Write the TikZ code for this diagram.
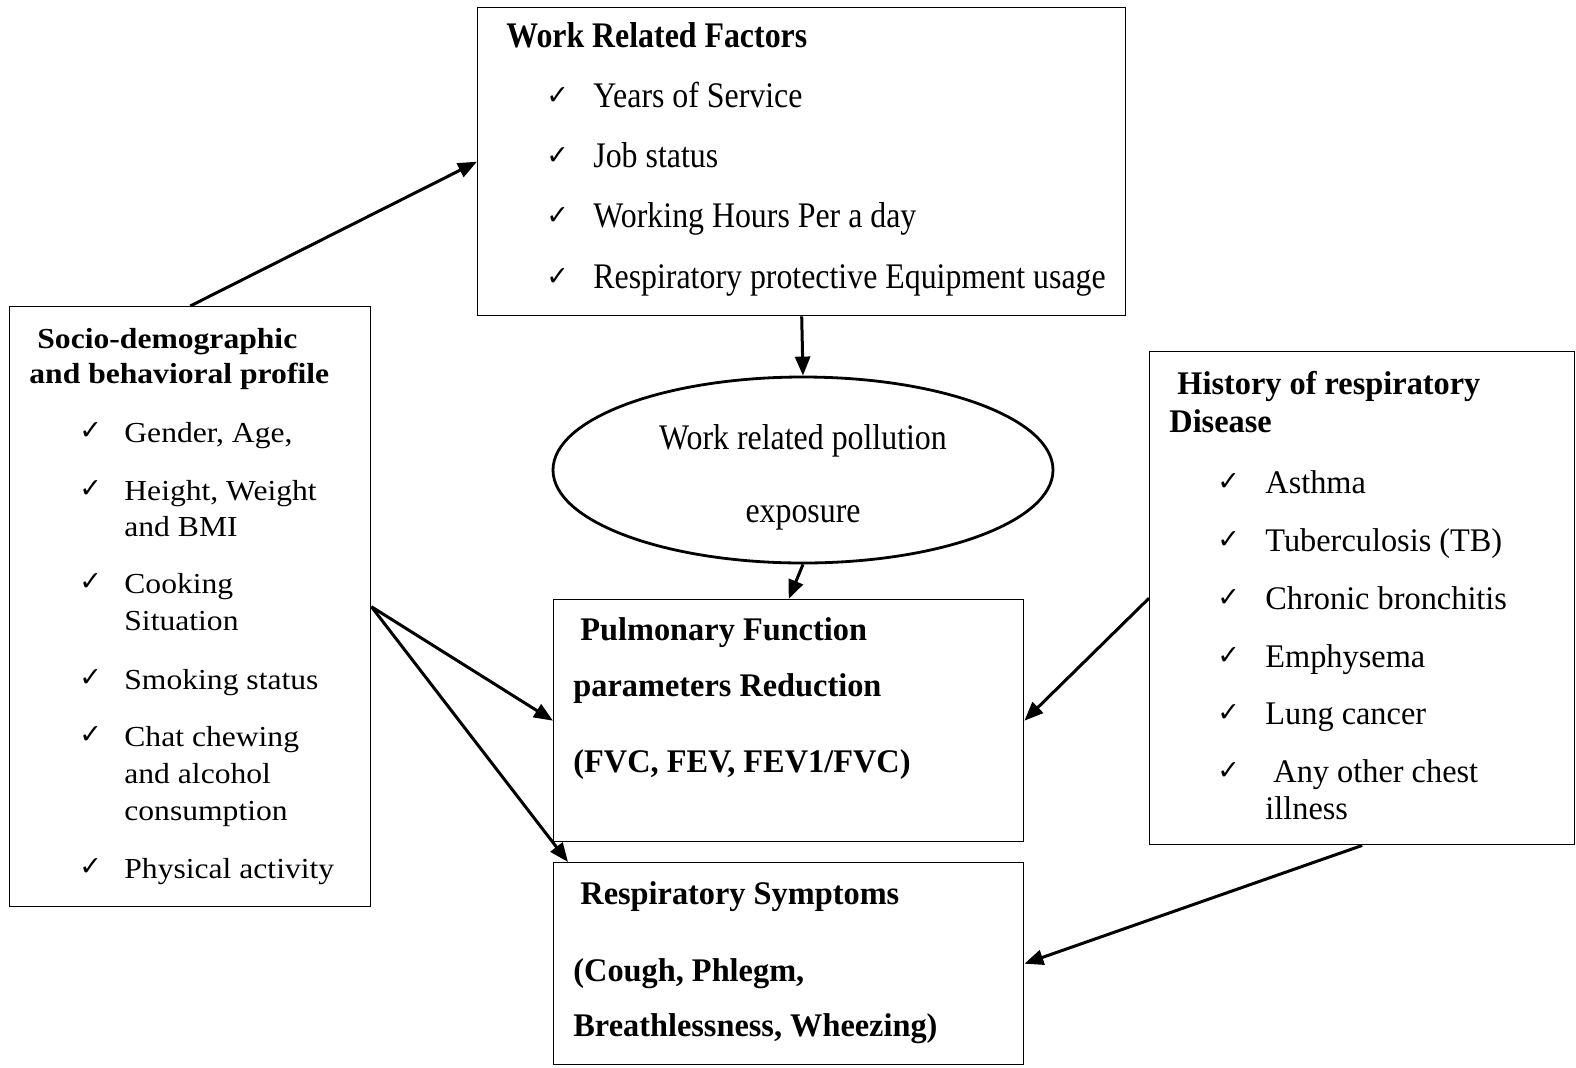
\documentclass[tikz,border=0pt]{standalone}
\usepackage{fontspec}
\setmainfont{Liberation Serif}
\newfontfamily\fw{Liberation Serif}[FakeStretch=0.885]
\newfontfamily\fs{Liberation Serif}[FakeStretch=1.09]
\newfontfamily\fh{Liberation Serif}[FakeStretch=0.98]
\newfontfamily\fck{DejaVu Sans}
\usetikzlibrary{arrows.meta,shapes.geometric,calc}
\tikzset{
  box/.style={draw, line width=0.7pt, rectangle, anchor=north west, inner sep=0pt},
  arr/.style={line width=1.5pt, -{Triangle[length=9.5pt,width=7.5pt]}},
  txt/.style={anchor=base west, inner sep=0pt},
  wt/.style={txt, font=\fw\fontsize{18}{20}\selectfont},
  wtb/.style={txt, font=\fw\bfseries\fontsize{18}{20}\selectfont},
  st/.style={txt, font=\fs\fontsize{14.5}{16}\selectfont},
  stb/.style={txt, font=\fs\bfseries\fontsize{14.5}{16}\selectfont},
  ht/.style={txt, font=\fh\fontsize{16.5}{18}\selectfont},
  htb/.style={txt, font=\fh\bfseries\fontsize{16.5}{18}\selectfont},
  ck/.style={txt, font=\fck\fontsize{13.5}{14}\selectfont},
}
\begin{document}
\begin{tikzpicture}[x=0.5pt,y=-0.5pt]
\useasboundingbox (0,0) rectangle (1576,1067);
% boxes
\node[box, minimum width=324pt, minimum height=154pt] (work) at (477,7) {};
\node[box, minimum width=180.5pt, minimum height=300pt] (socio) at (9,306) {};
\node[box, minimum width=212.5pt, minimum height=246.5pt] (hist) at (1149,351) {};
\node[box, minimum width=235pt, minimum height=121pt] (pulm) at (553,599) {};
\node[box, minimum width=235pt, minimum height=101pt] (resp) at (553,862) {};
\node[draw, ellipse, line width=1.4pt, inner sep=0pt, minimum width=250pt, minimum height=93pt] (ell) at (803,470) {};
\begin{scope}[yshift=-1pt]
% work texts
\node[wtb] (wt0) at (506,45) {Work Related Factors};
\node[ck] (wc1) at (546,102) {✓}; \node[wt] (wt1) at (593,105) {Years of Service};
\node[ck] (wc2) at (546,162) {✓}; \node[wt] (wt2) at (593,165) {Job status};
\node[ck] (wc3) at (546,222) {✓}; \node[wt] (wt3) at (593,225) {Working Hours Per a day};
\node[ck] (wc4) at (546,283) {✓}; \node[wt] (wt4) at (593,286) {Respiratory protective Equipment usage};
% socio texts
\node[stb] (st0) at (37,346) {Socio-demographic};
\node[stb] (st0b) at (29,381) {and behavioral profile};
\node[ck] (sc1) at (79,437) {✓}; \node[st] (st1) at (124,440) {Gender, Age,};
\node[ck] (sc2) at (79,495) {✓}; \node[st] (st2) at (124,498) {Height, Weight};
\node[st] (st2b) at (124,534) {and BMI};
\node[ck] (sc3) at (79,588) {✓}; \node[st] (st3) at (124,591) {Cooking};
\node[st] (st3b) at (124,628) {Situation};
\node[ck] (sc4) at (79,684) {✓}; \node[st] (st4) at (124,687) {Smoking status};
\node[ck] (sc5) at (79,741) {✓}; \node[st] (st5) at (124,744) {Chat chewing};
\node[st] (st5b) at (124,781) {and alcohol};
\node[st] (st5c) at (124,818) {consumption};
\node[ck] (sc6) at (79,873) {✓}; \node[st] (st6) at (124,876) {Physical activity};
% ellipse texts
\node[wt, anchor=base] (et1) at (803,447) {Work related pollution};
\node[wt, anchor=base] (et2) at (803,520) {exposure};
% history texts
\node[htb] (ht0) at (1177,392) {History of respiratory};
\node[htb] (ht0b) at (1169,430) {Disease};
\node[ck] (hc1) at (1217,488) {✓}; \node[ht] (ht1) at (1265,491) {Asthma};
\node[ck] (hc2) at (1217,546) {✓}; \node[ht] (ht2) at (1265,549) {Tuberculosis (TB)};
\node[ck] (hc3) at (1217,604) {✓}; \node[ht] (ht3) at (1265,607) {Chronic bronchitis};
\node[ck] (hc4) at (1217,662) {✓}; \node[ht] (ht4) at (1265,665) {Emphysema};
\node[ck] (hc5) at (1217,719) {✓}; \node[ht] (ht5) at (1265,722) {Lung cancer};
\node[ck] (hc6) at (1217,777) {✓}; \node[ht] (ht6) at (1273,780) {Any other chest};
\node[ht] (ht6b) at (1265,817) {illness};
% pulmonary texts
\node[htb] (pt1) at (580,638) {Pulmonary Function};
\node[htb] (pt2) at (573,694) {parameters Reduction};
\node[htb] (pt3) at (573,770) {(FVC, FEV, FEV1/FVC)};
% respiratory texts
\node[htb] (rt1) at (580,902) {Respiratory Symptoms};
\node[htb] (rt2) at (573,979) {(Cough, Phlegm,};
\node[htb] (rt3) at (573,1034) {Breathlessness, Wheezing)};
\end{scope}
% connectors
\draw[arr] (socio.north) -- (work.west);
\draw[arr] (work.south) -- (ell.north);
\draw[arr] (ell.south) -- (pulm.north);
\draw[arr] (socio.east) -- (pulm.west);
\draw[arr] (socio.east) -- ([xshift=7.5pt]resp.north west);
\draw[arr] (hist.west) -- (pulm.east);
\draw[arr] (hist.south) -- (resp.east);
\end{tikzpicture}
\end{document}
